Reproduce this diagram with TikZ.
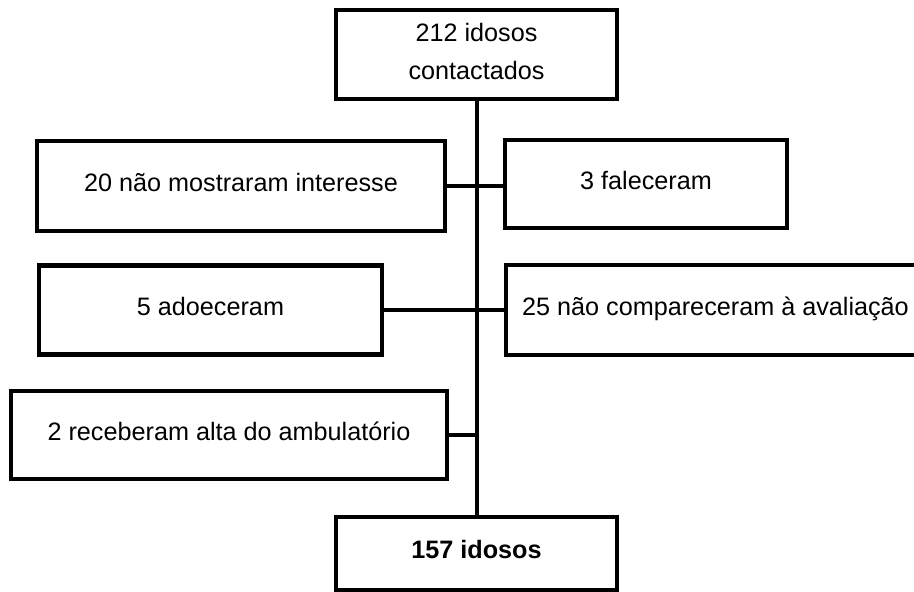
\documentclass[tikz,border=0pt]{standalone}
\usepackage{fontspec}
\setmainfont{Liberation Sans}
\begin{document}
\begin{tikzpicture}[x=1pt,y=-1pt,
  box/.style={draw=black, line width=4.5pt, inner sep=0pt, align=center,
    font=\fontsize{25.2}{38}\selectfont, text height=18pt, text depth=8pt},
  link/.style={draw=black, line width=4pt}]
\useasboundingbox (0,0) rectangle (914,592);
\clip (0,0) rectangle (914,592);
\node[box, minimum width=281pt, minimum height=89pt, text height=56pt, text depth=7pt] (top) at (476.5,54.5) {212 idosos\\contactados};
\node[box, minimum width=408pt, minimum height=90pt] (b20) at (241,186) {20 não mostraram interesse};
\node[box, minimum width=282pt, minimum height=88pt] (b3) at (646,184) {3 faleceram};
\node[box, minimum width=343pt, minimum height=89pt] (b5) at (210.5,310) {5 adoeceram};
\node[box, minimum width=419pt, minimum height=90pt] (b25) at (715.5,310) {25 não compareceram à avaliação};
\node[box, minimum width=436pt, minimum height=88pt] (b2) at (229,435) {2 receberam alta do ambulatório};
\node[box, minimum width=281pt, minimum height=73pt, font=\fontsize{25.2}{30}\selectfont\bfseries] (bot) at (476.5,553.5) {157 idosos};
\draw[link] (top.south) -- (bot.north);
\draw[link] (b20.east) -- (b20.east -| b3.west);
\draw[link] (b5.east) -- (b5.east -| b25.west);
\draw[link] (b2.east) -- (b2.east -| top.south);
\end{tikzpicture}
\end{document}
